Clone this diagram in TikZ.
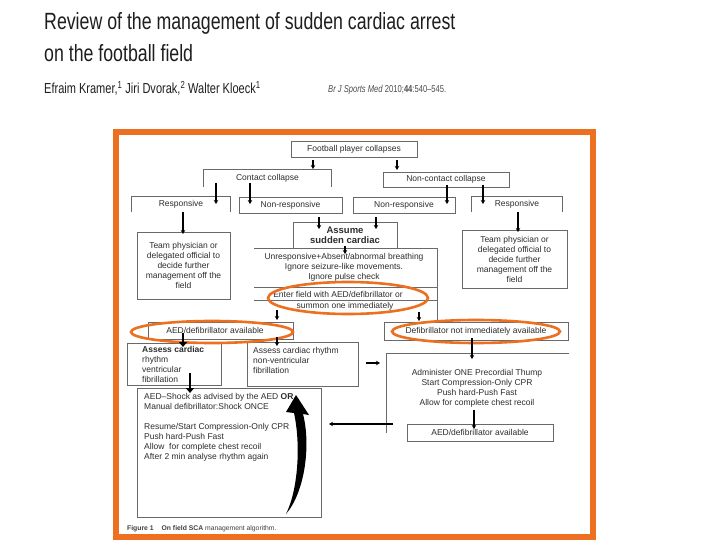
\documentclass[tikz,border=0pt]{standalone}
\usepackage{fontspec}
\usepackage{graphicx}
\setmainfont{Liberation Sans}
\usetikzlibrary{arrows.meta}
\definecolor{frameorange}{RGB}{236,112,32}
\definecolor{txt}{RGB}{45,45,45}
\definecolor{titlec}{RGB}{30,30,30}
\definecolor{boxline}{RGB}{105,105,105}
\newcommand\fsmall{\fontsize{8.5}{10}\selectfont}
\tikzset{
  box/.style={draw=boxline, line width=0.7pt, inner sep=0pt, text=txt, font=\fsmall, align=center},
  openbox/.style={inner sep=0pt, text=txt, font=\fsmall, align=center},
  txtn/.style={inner sep=0pt, text=txt, font=\fsmall},
  bline/.style={draw=boxline, line width=0.7pt},
  arr/.style={draw=black, line width=1.1pt, -{Stealth[length=4pt,width=4.5pt]}},
  tarr/.style={draw=black, line width=2.6pt, -{Triangle[length=5pt,width=8pt]}},
  ring/.style={draw=frameorange, line width=2.6pt},
}
\begin{document}
\begin{tikzpicture}[x=1pt,y=-1pt]
\useasboundingbox (0,0) rectangle (720,540);
\fill[white] (0,0) rectangle (720,540);

% title block
\node[anchor=base west, inner sep=0pt, text=titlec] (title1) at (44,29.5)
  {\scalebox{0.755}[1]{\fontsize{23.5}{23.5}\selectfont Review of the management of sudden cardiac arrest}};
\node[anchor=base west, inner sep=0pt, text=titlec] (title2) at (44,61.7)
  {\scalebox{0.755}[1]{\fontsize{23.5}{23.5}\selectfont on the football field}};
\node[anchor=base west, inner sep=0pt, text=titlec] (authors) at (44,94)
  {\scalebox{0.76}[1]{\fontsize{14.5}{14.5}\selectfont Efraim Kramer,\textsuperscript{1} Jiri Dvorak,\textsuperscript{2} Walter Kloeck\textsuperscript{1}}};
\node[anchor=base west, inner sep=0pt, text=black!70] (cite) at (328,92.7)
  {\scalebox{0.76}[1]{\fontsize{10}{10}\selectfont\textit{Br J Sports Med} 2010;\textbf{44}:540--545.}};

% orange frame
\draw[draw=frameorange, line width=6pt] (116,132) rectangle (593,536.5);

% boxes
\node[box, minimum width=126pt, minimum height=16pt] (fpc) at (354,149) {Football player collapses};
\node[openbox, minimum width=127pt, minimum height=17pt] (contact) at (267.5,178.5) {Contact collapse};
\draw[bline] (contact.south west) -- (contact.north west) -- (contact.north east) -- (contact.south east);
\node[box, minimum width=126pt, minimum height=15pt] (noncontact) at (446,179.5) {Non-contact collapse};

\node[openbox, minimum width=98pt, minimum height=15pt] (resp1) at (181,204.5) {Responsive};
\draw[bline] (resp1.south west) -- (resp1.north west) -- (resp1.north east) -- (resp1.south east);
\node[box, minimum width=103pt, minimum height=16pt] (nonresp1) at (290.5,205) {Non-responsive};
\node[box, minimum width=102pt, minimum height=16pt] (nonresp2) at (404,205) {Non-responsive};
\node[openbox, minimum width=90pt, minimum height=15pt] (resp2) at (517,204.5) {Responsive};
\draw[bline] (resp2.south west) -- (resp2.north west) -- (resp2.north east) -- (resp2.south east);

\node[box, minimum width=93pt, minimum height=67pt] (team1) at (183.5,265.5)
  {Team physician or\\delegated official to\\decide further\\management off the\\field};
\node[box, minimum width=105pt, minimum height=58pt] (team2) at (514.5,259)
  {Team physician or\\delegated official to\\decide further\\management off the\\field};

\node[box, minimum width=104pt, minimum height=26pt, font=\fontsize{9.5}{10}\selectfont\bfseries] (assume) at (345,235)
  {Assume\\sudden cardiac};

% unresponsive block
\draw[bline] (254,248) -- (437,248) -- (437,322);
\draw[bline] (254,287) -- (437,287);
\draw[bline] (254,300) -- (437,300);
\node[openbox] (unresp) at (344,267)
  {Unresponsive+Absent/abnormal breathing\\Ignore seizure-like movements.\\Ignore pulse check};
\node[txtn] (enter1) at (338,294) {Enter field with AED/defibrillator or};
\node[txtn] (enter2) at (345,306) {summon one immediately};

\node[box, minimum width=145pt, minimum height=17pt] (aed1) at (220.5,330.5) {};
\node[txtn] (aed1t) at (215,330) {AED/defibrillator available};
\node[box, minimum width=184pt, minimum height=18pt] (defnot) at (476,331) {Defibrillator not immediately available};

\node[box, minimum width=94pt, minimum height=42pt] (vf) at (174,364) {};
\node[txtn, anchor=west, align=left] (vft) at (142,364)
  {\textbf{Assess cardiac}\\rhythm\\ventricular\\fibrillation};
\node[box, minimum width=111pt, minimum height=44pt] (nvf) at (302.5,364) {};
\node[txtn, anchor=west, align=left] (nvft) at (253,360.5)
  {Assess cardiac rhythm\\non-ventricular\\fibrillation};

% administer block
\draw[bline] (569,353) -- (386,353) -- (386,433);
\node[openbox] (admin) at (477,388.5)
  {Administer ONE Precordial Thump\\Start Compression-Only CPR\\Push hard-Push Fast\\Allow for complete chest recoil};
\node[box, minimum width=146pt, minimum height=17pt] (aed2) at (480,432.5) {AED/defibrillator available};

\node[box, minimum width=184pt, minimum height=129pt] (shock) at (229,452.5) {};
\node[txtn, anchor=west, align=left] (shockt) at (144,427)
  {AED--Shock as advised by the AED \textbf{OR}\\Manual defibrillator:Shock ONCE\\[10pt]Resume/Start Compression-Only CPR\\Push hard-Push Fast\\Allow\ \ for complete chest recoil\\After 2 min analyse rhythm again};

% orange rings
\draw[ring] (348,298) ellipse [x radius=80, y radius=16];
\draw[ring] (212,332) ellipse [x radius=81, y radius=11];
\draw[ring] (476,331.5) ellipse [x radius=84, y radius=11.5];

% arrow end points
\coordinate (a1s) at (313,160); \coordinate (a1e) at (313,169);
\coordinate (a2s) at (397,160); \coordinate (a2e) at (397,170);
\coordinate (a3s) at (216,183); \coordinate (a3e) at (216,204);
\coordinate (a4s) at (250,183); \coordinate (a4e) at (250,204);
\coordinate (a5s) at (447,185); \coordinate (a5e) at (447,204);
\coordinate (a6s) at (483,185); \coordinate (a6e) at (483,204);
\coordinate (a7s) at (183,212); \coordinate (a7e) at (183,234);
\coordinate (a8s) at (518,212); \coordinate (a8e) at (518,232);
\coordinate (a9s) at (319,217); \coordinate (a9e) at (319,229);
\coordinate (a10s) at (376,217); \coordinate (a10e) at (376,229);
\coordinate (a11s) at (345,246); \coordinate (a11e) at (345,254);
\coordinate (a12s) at (277,310); \coordinate (a12e) at (277,320);
\coordinate (a13s) at (419,312); \coordinate (a13e) at (419,321);
\coordinate (a14s) at (183,333); \coordinate (a14e) at (183,347);
\coordinate (a15s) at (277,337); \coordinate (a15e) at (277,346);
\coordinate (a16s) at (190,373); \coordinate (a16e) at (190,393);
\coordinate (a17s) at (366,363); \coordinate (a17e) at (380,363);
\coordinate (a18s) at (472,338); \coordinate (a18e) at (472,359);
\coordinate (a19s) at (474,410); \coordinate (a19e) at (474,429);
\coordinate (a20s) at (393,424); \coordinate (a20e) at (329,424);

\draw[arr] (a1s) -- (a1e);
\draw[arr] (a2s) -- (a2e);
\draw[arr] (a3s) -- (a3e);
\draw[arr] (a4s) -- (a4e);
\draw[arr] (a5s) -- (a5e);
\draw[arr] (a6s) -- (a6e);
\draw[arr] (a7s) -- (a7e);
\draw[arr] (a8s) -- (a8e);
\draw[arr] (a9s) -- (a9e);
\draw[arr] (a10s) -- (a10e);
\draw[arr] (a11s) -- (a11e);
\draw[arr] (a12s) -- (a12e);
\draw[arr] (a13s) -- (a13e);
\draw[tarr] (a14s) -- (a14e);
\draw[arr] (a15s) -- (a15e);
\draw[tarr] (a16s) -- (a16e);
\draw[arr] (a17s) -- (a17e);
\draw[arr] (a18s) -- (a18e);
\draw[arr, line width=1.8pt] (a19s) -- (a19e);
\draw[arr] (a20s) -- (a20e);

% curved loop arrow in shock box (crescent)
\fill[black] (286,514) .. controls (305,492) and (311,445) .. (303,414)
  -- (309,415) -- (296,395) -- (286,412) -- (294,413)
  .. controls (301,445) and (298,490) .. (286,514) -- cycle;

% caption
\node[anchor=base west, inner sep=0pt, text=black!75] (caption) at (127,530)
  {\fontsize{6.8}{7}\selectfont\textbf{Figure 1}\hspace{8pt}\textbf{On field SCA} management algorithm.};
\end{tikzpicture}
\end{document}
